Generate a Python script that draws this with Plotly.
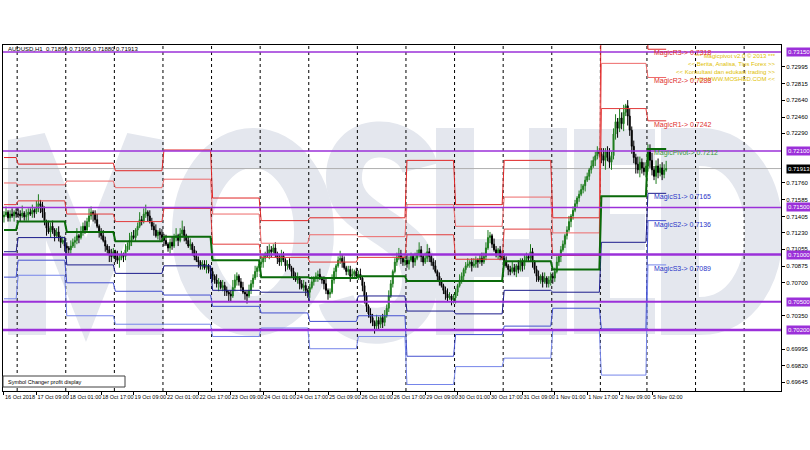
import plotly.graph_objects as go

# ---------------- data ----------------
symbol_title = "AUDUSD,H1  0.71899 0.71995 0.71880 0.71913"
footer_text = "Symbol Changer profit display"
credit_lines = ["*** Magicpivot v2.0 \u00a9 2013 ***",
                "<< Berita, Analisa, Tips Forex >>",
                "<< Konsultasi dan edukasi trading >>",
                "<< @ WWW.MOSHED.COM <<"]

day_names = ["16 Oct", "17 Oct", "18 Oct", "19 Oct", "22 Oct", "23 Oct", "24 Oct", "25 Oct",
             "26 Oct", "29 Oct", "30 Oct", "31 Oct", "1 Nov", "2 Nov", "5 Nov"]

first_open = 0.7140

# hourly closes per trading day
day_closes = [
    [0.7142, 0.7145, 0.7139, 0.7143, 0.7141, 0.7145, 0.7143],
    [0.7143, 0.7141, 0.7144, 0.7140, 0.7142, 0.7145, 0.7143, 0.7147, 0.7145, 0.7149, 0.7154, 0.7152,
     0.7145, 0.7135, 0.7128, 0.7124, 0.7130, 0.7126, 0.7120, 0.7124, 0.7118, 0.7113, 0.7115, 0.7109],
    [0.7107, 0.7105, 0.7109, 0.7113, 0.7115, 0.7120, 0.7118, 0.7124, 0.7130, 0.7126, 0.7135, 0.7141,
     0.7145, 0.7143, 0.7137, 0.7130, 0.7124, 0.7120, 0.7115, 0.7109, 0.7105, 0.7100, 0.7098, 0.7103],
    [0.7098, 0.7094, 0.7096, 0.7100, 0.7098, 0.7105, 0.7109, 0.7115, 0.7120, 0.7118, 0.7126, 0.7130,
     0.7137, 0.7135, 0.7143, 0.7145, 0.7141, 0.7135, 0.7130, 0.7126, 0.7120, 0.7124, 0.7121, 0.7118],
    [0.7115, 0.7111, 0.7107, 0.7113, 0.7109, 0.7118, 0.7120, 0.7115, 0.7122, 0.7126, 0.7120, 0.7115,
     0.7109, 0.7111, 0.7105, 0.7098, 0.7094, 0.7092, 0.7088, 0.7090, 0.7086, 0.7088, 0.7084, 0.7082],
    [0.7077, 0.7073, 0.7069, 0.7071, 0.7065, 0.7067, 0.7062, 0.7060, 0.7058, 0.7056, 0.7065, 0.7073,
     0.7077, 0.7071, 0.7065, 0.7060, 0.7058, 0.7056, 0.7062, 0.7069, 0.7075, 0.7082, 0.7086, 0.7090],
    [0.7092, 0.7096, 0.7101, 0.7099, 0.7105, 0.7103, 0.7107, 0.7101, 0.7096, 0.7092, 0.7099, 0.7094,
     0.7088, 0.7090, 0.7086, 0.7082, 0.7077, 0.7073, 0.7075, 0.7069, 0.7065, 0.7067, 0.7062, 0.7060],
    [0.7065, 0.7071, 0.7075, 0.7077, 0.7079, 0.7075, 0.7073, 0.7069, 0.7062, 0.7058, 0.7060, 0.7073,
     0.7082, 0.7088, 0.7094, 0.7096, 0.7092, 0.7086, 0.7082, 0.7084, 0.7077, 0.7079, 0.7082, 0.7077],
    [0.7079, 0.7075, 0.7067, 0.7056, 0.7045, 0.7037, 0.7033, 0.7028, 0.7024, 0.7030, 0.7026, 0.7033,
     0.7028, 0.7035, 0.7043, 0.7056, 0.7069, 0.7082, 0.7092, 0.7096, 0.7101, 0.7096, 0.7092, 0.7094],
    [0.7090, 0.7094, 0.7098, 0.7092, 0.7096, 0.7101, 0.7105, 0.7098, 0.7092, 0.7096, 0.7103, 0.7098,
     0.7092, 0.7088, 0.7082, 0.7077, 0.7071, 0.7067, 0.7062, 0.7058, 0.7054, 0.7056, 0.7052, 0.7054],
    [0.7060, 0.7067, 0.7073, 0.7077, 0.7084, 0.7088, 0.7090, 0.7092, 0.7088, 0.7090, 0.7094, 0.7092,
     0.7096, 0.7092, 0.7098, 0.7107, 0.7118, 0.7120, 0.7111, 0.7105, 0.7101, 0.7105, 0.7098, 0.7096],
    [0.7092, 0.7088, 0.7084, 0.7082, 0.7086, 0.7082, 0.7088, 0.7084, 0.7092, 0.7088, 0.7094, 0.7098,
     0.7096, 0.7103, 0.7092, 0.7084, 0.7077, 0.7073, 0.7077, 0.7071, 0.7075, 0.7069, 0.7073, 0.7077],
    [0.7075, 0.7082, 0.7092, 0.7098, 0.7105, 0.7111, 0.7120, 0.7126, 0.7135, 0.7141, 0.7147, 0.7154,
     0.7160, 0.7164, 0.7169, 0.7173, 0.7179, 0.7183, 0.7190, 0.7194, 0.7200, 0.7205, 0.7209, 0.7207],
    [0.7205, 0.7200, 0.7209, 0.7203, 0.7198, 0.7205, 0.7228, 0.7241, 0.7234, 0.7245, 0.7239, 0.7251,
     0.7258, 0.7247, 0.7232, 0.7215, 0.7203, 0.7196, 0.7190, 0.7198, 0.7192, 0.7188, 0.7194],
    [0.7211, 0.7200, 0.7190, 0.7183, 0.7194, 0.7187, 0.7192, 0.7185, 0.71899, 0.71913],
]

# upper / lower shadow length of each candle, in units of 2 pips
WICK_UNIT = 0.0002
day_wick_up = [
    [2, 3, 1, 2, 3, 1, 2],
    [3, 2, 4, 1, 3, 2, 2, 3, 1, 4, 5, 2, 2, 3, 1, 4, 2, 3, 1, 2, 3, 1, 2, 2],
    [2, 1, 3, 2, 2, 4, 1, 3, 2, 3, 2, 4, 3, 1, 2, 3, 1, 2, 3, 2, 1, 2, 3, 2],
    [1, 3, 2, 2, 1, 3, 2, 4, 2, 3, 1, 2, 4, 2, 3, 4, 1, 3, 2, 2, 3, 1, 2, 3],
    [2, 3, 1, 2, 3, 2, 4, 1, 3, 5, 2, 1, 2, 3, 1, 2, 3, 2, 1, 2, 2, 3, 1, 2],
    [2, 1, 3, 2, 1, 3, 2, 2, 1, 2, 4, 3, 2, 1, 2, 3, 1, 2, 3, 2, 2, 3, 1, 2],
    [3, 2, 1, 4, 3, 2, 2, 3, 1, 2, 3, 2, 1, 2, 3, 1, 2, 2, 3, 1, 2, 3, 2, 1],
    [2, 3, 1, 2, 2, 3, 1, 2, 3, 1, 2, 3, 2, 1, 2, 4, 2, 3, 1, 2, 2, 3, 1, 2],
    [2, 3, 1, 2, 2, 1, 3, 2, 1, 3, 2, 1, 2, 3, 2, 3, 2, 1, 2, 3, 3, 2, 1, 2],
    [3, 2, 2, 1, 3, 2, 4, 2, 1, 3, 4, 2, 1, 2, 3, 1, 2, 2, 1, 2, 3, 2, 1, 2],
    [2, 1, 3, 2, 1, 2, 3, 1, 2, 3, 2, 1, 2, 3, 2, 3, 4, 2, 1, 3, 2, 1, 2, 3],
    [2, 3, 1, 2, 3, 2, 1, 3, 2, 2, 3, 2, 1, 4, 2, 1, 2, 3, 1, 2, 3, 1, 2, 2],
    [2, 2, 3, 1, 2, 2, 1, 2, 3, 1, 2, 2, 1, 2, 3, 1, 2, 2, 1, 3, 2, 2, 3, 2],
    [3, 4, 2, 3, 5, 2, 3, 4, 2, 5, 3, 4, 1, 3, 4, 2, 3, 2, 4, 3, 2, 3, 2],
    [3, 3, 4, 2, 3, 4, 2, 3, 3, 4.1],
]
day_wick_dn = [
    [3, 1, 2, 2, 1, 3, 2],
    [2, 3, 1, 2, 2, 3, 1, 2, 3, 1, 2, 4, 3, 2, 4, 1, 3, 2, 3, 1, 2, 3, 1, 3],
    [3, 2, 2, 1, 3, 2, 3, 1, 2, 2, 1, 3, 2, 4, 2, 1, 3, 2, 1, 3, 2, 4, 3, 1],
    [3, 2, 4, 1, 3, 2, 1, 2, 3, 1, 2, 3, 1, 2, 1, 2, 3, 1, 2, 3, 1, 2, 3, 2],
    [3, 1, 2, 3, 2, 1, 2, 3, 1, 2, 3, 2, 1, 2, 3, 2, 1, 3, 2, 2, 1, 3, 2, 4],
    [3, 2, 2, 4, 1, 2, 3, 2, 4, 3, 1, 2, 3, 2, 2, 1, 3, 4, 1, 2, 2, 1, 3, 2],
    [2, 3, 2, 1, 2, 3, 1, 2, 3, 2, 2, 1, 3, 2, 1, 3, 2, 1, 2, 3, 1, 2, 3, 3],
    [3, 1, 2, 2, 3, 1, 2, 3, 2, 3, 2, 1, 2, 3, 1, 2, 3, 1, 2, 2, 3, 1, 2, 1],
    [2, 1, 3, 4, 3, 2, 3, 2, 4, 2, 3, 2, 3, 2, 1, 2, 1, 2, 1, 2, 1, 3, 2, 2],
    [2, 3, 1, 3, 2, 1, 2, 3, 2, 1, 2, 3, 2, 2, 1, 3, 2, 1, 2, 3, 2, 1, 3, 2],
    [3, 2, 1, 2, 3, 2, 1, 2, 3, 1, 2, 3, 1, 2, 1, 2, 1, 3, 2, 1, 2, 3, 2, 1],
    [2, 1, 3, 2, 1, 2, 3, 2, 1, 3, 2, 1, 2, 2, 3, 2, 3, 1, 2, 3, 1, 2, 2, 3],
    [3, 2, 1, 2, 3, 1, 2, 2, 1, 3, 2, 1, 2, 2, 1, 2, 3, 1, 2, 2, 1, 3, 2, 2],
    [4, 3, 5, 2, 3, 4, 2, 3, 5, 2, 3, 4, 2, 5, 3, 4, 3, 5, 2, 4, 3, 2, 3],
    [3, 4, 3, 2, 4, 3, 2, 3, 2, 0.95],
]

# daily pivot levels (one value per trading day)
r3_levels = [0.7203, 0.7196, 0.7197, 0.7189, 0.7211, 0.7160, 0.7136, 0.7139, 0.7139, 0.7200, 0.7153, 0.7200, 0.7139, 0.7396, 0.7318]
r2_levels = [0.7176, 0.7174, 0.7178, 0.7171, 0.7180, 0.7143, 0.7112, 0.7121, 0.7119, 0.7153, 0.7130, 0.7161, 0.7123, 0.7303, 0.7288]
r1_levels = [0.7153, 0.7157, 0.7143, 0.7135, 0.7149, 0.7111, 0.7097, 0.7092, 0.7097, 0.7121, 0.7095, 0.7127, 0.7099, 0.7255, 0.7242]
pivot_levels = [0.7126, 0.7135, 0.7124, 0.7114, 0.7119, 0.7094, 0.7076, 0.7075, 0.7077, 0.7072, 0.7072, 0.7093, 0.7084, 0.7162, 0.7212]
s1_levels = [0.7103, 0.7118, 0.7089, 0.7080, 0.7088, 0.7062, 0.7060, 0.7050, 0.7056, 0.7040, 0.7037, 0.7062, 0.7060, 0.7113, 0.7165]
s2_levels = [0.7076, 0.7094, 0.7070, 0.7061, 0.7057, 0.7045, 0.7038, 0.7029, 0.7035, 0.6992, 0.7015, 0.7024, 0.7043, 0.7021, 0.7136]
s3_levels = [0.7053, 0.7078, 0.7035, 0.7026, 0.7026, 0.7013, 0.7022, 0.7000, 0.7013, 0.6962, 0.6981, 0.6990, 0.7020, 0.6972, 0.7089]

round_levels = [0.73150, 0.72100, 0.71500, 0.71000, 0.70500, 0.70200]

x_tick_labels = ["16 Oct 2018", "17 Oct 09:00", "18 Oct 01:00", "18 Oct 17:00", "19 Oct 09:00",
                 "22 Oct 01:00", "22 Oct 17:00", "23 Oct 09:00", "24 Oct 01:00", "24 Oct 17:00",
                 "25 Oct 09:00", "26 Oct 01:00", "26 Oct 17:00", "29 Oct 09:00", "30 Oct 01:00",
                 "30 Oct 17:00", "31 Oct 09:00", "1 Nov 01:00", "1 Nov 17:00", "2 Nov 09:00",
                 "5 Nov 02:00"]
y_tick_values = [0.69645, 0.69820, 0.69995, 0.70350, 0.70700, 0.70875, 0.71055, 0.71230, 0.71405,
                 0.71585, 0.71760, 0.72290, 0.72460, 0.72640, 0.72815, 0.72995]

# ---------------- build bars ----------------
opens, highs, lows, closes, xs = [], [], [], [], []
day_start, day_end = [], []
prev = first_open
i = 0
for dc, wu, wd in zip(day_closes, day_wick_up, day_wick_dn):
    day_start.append(i)
    for c, u, d in zip(dc, wu, wd):
        o = prev
        opens.append(o)
        closes.append(c)
        highs.append(round(max(o, c) + u * WICK_UNIT, 5))
        lows.append(round(min(o, c) - d * WICK_UNIT, 5))
        xs.append(i)
        i += 1
        prev = c
    day_end.append(i - 1)

# ---------------- geometry ----------------
W, H = 810, 450
PL, PR, PT, PB = 3, 781, 45, 391
X_RANGE = [-0.49, 383.7]
Y_RANGE = [0.69551, 0.73225]
FONT = "Liberation Sans, Arial, sans-serif"


def fx(x):
    return (x - PL) / (PR - PL)


def fy(y):
    return (PB - y) / (PB - PT)


def pth(s):
    toks = s.split()
    out = []
    k = 0
    while k < len(toks):
        t = toks[k]
        if t.isalpha():
            out.append(t)
            k += 1
        else:
            out.append("%.5f,%.5f" % (fx(float(toks[k])), fy(float(toks[k + 1]))))
            k += 2
    return " ".join(out)


fig = go.Figure()

shapes = []
wm_col = "#e4e7ee"
# watermark letters (drawn below everything)
for p_, w_ in [
    ("M 27 335 L 27 140 L 86 290 L 145 140 L 145 335", 38),
    ("M 420 168 C 410 130 342 126 344 180 C 346 228 422 224 420 282 C 418 338 346 336 336 300", 36),
    ("M 455 128 L 455 335 M 548 128 L 548 335 M 455 258 L 548 258", 38),
    ("M 592 130 L 592 333 M 574 147 L 655 147 M 592 232 L 645 232 M 574 316 L 655 316", 36),
    ("M 680 128 L 680 335 M 662 147 L 700 147 C 785 147 785 316 700 316 L 662 316", 38),
]:
    shapes.append(dict(type="path", path=pth(p_), xref="paper", yref="paper",
                       line=dict(color=wm_col, width=w_), layer="below"))
shapes.append(dict(type="circle", xref="paper", yref="paper",
                   x0=fx(192), x1=fx(314), y0=fy(316), y1=fy(148),
                   line=dict(color=wm_col, width=40), layer="below"))

# day separators (dotted)
sep_x = [s - 0.5 for s in day_start[1:]] + [day_start[-1] + 24 - 0.5, day_start[-1] + 48 - 0.5]
for sx in sep_x:
    shapes.append(dict(type="line", xref="x", yref="paper", x0=sx, x1=sx, y0=0, y1=1,
                       line=dict(color="#000000", width=1, dash="dot"), layer="below"))

# round-number horizontal lines
round_widths = [1.5, 1.5, 1.5, 2.5, 2, 2.5]
purple = "#9b30d9"
for lv, lw in zip(round_levels, round_widths):
    shapes.append(dict(type="line", xref="paper", yref="y", x0=0, x1=1, y0=lv, y1=lv,
                       line=dict(color=purple, width=lw), layer="above"))
# bid line
shapes.append(dict(type="line", xref="paper", yref="y", x0=0, x1=1, y0=closes[-1], y1=closes[-1],
                   line=dict(color="#b0b0b0", width=1), layer="below"))
# footer box
shapes.append(dict(type="rect", xref="paper", yref="paper", x0=fx(3), x1=fx(125), y0=fy(387), y1=fy(376),
                   line=dict(color="#404040", width=1), fillcolor="white", layer="above"))


def level_xy(vals):
    X, Y = [], []
    for s, e, v in zip(day_start, day_end, vals):
        X += [s, e]
        Y += [v, v]
    return X, Y


level_styles = [
    (r3_levels, "#e02525", 1), (r2_levels, "#ee6a6a", 1), (r1_levels, "#e23b3b", 1),
    (s1_levels, "#1c1c8c", 1), (s2_levels, "#4450d0", 1), (s3_levels, "#7585ea", 1),
    (pivot_levels, "#0a6a0a", 2),
]
for vals, col, lw in level_styles:
    X, Y = level_xy(vals)
    fig.add_trace(go.Scatter(x=X, y=Y, mode="lines", line=dict(color=col, width=lw),
                             hoverinfo="skip", showlegend=False))

fig.add_trace(go.Candlestick(x=xs, open=opens, high=highs, low=lows, close=closes,
                             increasing=dict(line=dict(color="#1e7d1e", width=1), fillcolor="#1e7d1e"),
                             decreasing=dict(line=dict(color="#000000", width=1), fillcolor="#000000"),
                             whiskerwidth=0, showlegend=False))

annotations = []
# title
annotations.append(dict(xref="paper", yref="paper", x=fx(6), y=fy(49), xanchor="left", yanchor="middle",
                        text=symbol_title, showarrow=False, font=dict(family=FONT, size=6, color="#000")))
# credit block
annotations.append(dict(xref="paper", yref="paper", x=fx(778), y=fy(51), xanchor="right", yanchor="top",
                        text="<br>".join(credit_lines), align="right", showarrow=False,
                        font=dict(family=FONT, size=6, color="#e0c000")))
# footer text
annotations.append(dict(xref="paper", yref="paper", x=fx(6), y=fy(381.5), xanchor="left", yanchor="middle",
                        text=footer_text, showarrow=False, font=dict(family=FONT, size=5.5, color="#000")))

# current-day level labels
lab_x = day_start[-1] + 2
for name, vals, col in [("MagicR3", r3_levels, "#e03030"), ("MagicR2", r2_levels, "#e03030"),
                        ("MagicR1", r1_levels, "#e03030"), ("MagicPivot", pivot_levels, "#3a9a3a"),
                        ("MagicS1", s1_levels, "#2a35c8"), ("MagicS2", s2_levels, "#2a35c8"),
                        ("MagicS3", s3_levels, "#2a35c8")]:
    annotations.append(dict(x=lab_x, y=vals[-1], xref="x", yref="y", xanchor="left", yanchor="middle",
                            yshift=-4, text="%s-> %.4f" % (name, vals[-1]), showarrow=False,
                            font=dict(family=FONT, size=7, color=col)))

# right-axis highlighted price labels
for lv in round_levels:
    annotations.append(dict(xref="paper", yref="y", x=1, y=lv, xanchor="left", yanchor="middle", xshift=5,
                            text="%.5f" % lv, showarrow=False, bgcolor=purple, borderpad=1,
                            font=dict(family=FONT, size=6, color="white")))
annotations.append(dict(xref="paper", yref="y", x=1, y=closes[-1], xanchor="left", yanchor="middle", xshift=5,
                        text="%.5f" % closes[-1], showarrow=False, bgcolor="#000000", borderpad=1,
                        font=dict(family=FONT, size=6, color="white")))

fig.update_layout(
    width=W, height=H,
    margin=dict(l=PL, r=W - PR, t=PT, b=H - PB),
    paper_bgcolor="white", plot_bgcolor="white",
    showlegend=False, shapes=shapes, annotations=annotations,
    xaxis=dict(range=X_RANGE, showgrid=False, zeroline=False, rangeslider=dict(visible=False),
               tickvals=list(range(0, 16 * len(x_tick_labels), 16)), ticktext=x_tick_labels,
               ticks="outside", ticklen=3, tickcolor="#000", ticklabelposition="outside right",
               tickangle=0, tickfont=dict(family=FONT, size=5.5, color="#000"),
               showline=True, linecolor="#000", linewidth=1, mirror=True, automargin=False),
    yaxis=dict(range=Y_RANGE, side="right", showgrid=False, zeroline=False,
               tickvals=y_tick_values, ticktext=["%.5f" % v for v in y_tick_values],
               ticks="outside", ticklen=3, tickcolor="#000",
               tickfont=dict(family=FONT, size=6, color="#000"),
               showline=True, linecolor="#000", linewidth=1, mirror=True, automargin=False),
)

fig.write_html("out.html", config={"displayModeBar": False},
               post_script="document.body.style.margin='0';document.body.style.overflow='hidden';")
